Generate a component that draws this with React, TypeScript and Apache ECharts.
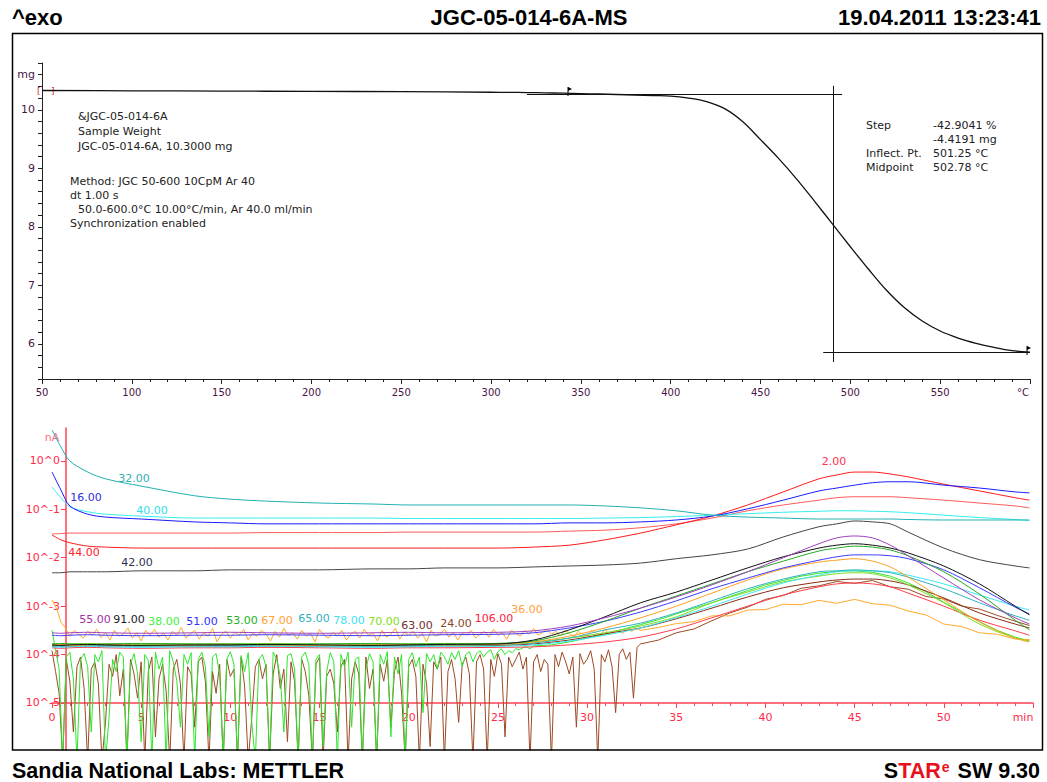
import React, { useEffect, useRef } from "react";
import * as echarts from "echarts";

// ---------- TGA curve (mass vs. sample temperature) ----------
const TEMP_C = [50, 100, 150, 200, 250, 300, 310, 320, 330, 340, 350, 360, 370, 380, 390, 400, 410, 420, 430, 440, 450, 460, 470, 480, 490, 500, 510, 520, 530, 540, 550, 560, 570, 580, 590, 600];
const MASS_MG = [10.33, 10.325, 10.32, 10.315, 10.31, 10.3, 10.298, 10.295, 10.29, 10.285, 10.278, 10.27, 10.262, 10.253, 10.243, 10.235, 10.2, 10.14, 10.02, 9.8, 9.49, 9.17, 8.82, 8.44, 8.05, 7.66, 7.28, 6.92, 6.62, 6.39, 6.22, 6.1, 6.01, 5.94, 5.885, 5.86];

// step evaluation construction lines
const STEP_UPPER_MG = 10.27;
const STEP_UPPER_RANGE_C = [320, 495.4];
const STEP_LOWER_MG = 5.855;
const STEP_LOWER_RANGE_C = [484.9, 600];
const STEP_MARK_C = 490.3;
const STEP_MARK_RANGE_MG = [10.41, 5.69];

// ---------- MS ion currents, log10(nA) vs. time in minutes ----------
const MS_TIME = [0, 0.5, 1, 2, 3, 5, 8, 10, 12, 15, 18, 20, 22, 25, 27, 29, 31, 33, 35, 37, 39, 41, 43, 44, 45, 46, 47, 48, 50, 52, 54, 54.8];

const MZ2 = [-1.53, -1.63, -1.69, -1.76, -1.78, -1.8, -1.8, -1.8, -1.8, -1.8, -1.8, -1.8, -1.8, -1.8, -1.78, -1.74, -1.63, -1.49, -1.32, -1.14, -0.91, -0.64, -0.37, -0.29, -0.23, -0.23, -0.27, -0.33, -0.48, -0.62, -0.76, -0.81];
const MZ16 = [-0.23, -0.6, -0.93, -1.1, -1.16, -1.2, -1.26, -1.28, -1.3, -1.3, -1.3, -1.3, -1.3, -1.3, -1.3, -1.28, -1.28, -1.26, -1.22, -1.14, -0.99, -0.81, -0.62, -0.56, -0.5, -0.45, -0.43, -0.43, -0.5, -0.56, -0.64, -0.66];
const MZ32 = [0.64, 0.29, 0.0, -0.23, -0.37, -0.52, -0.72, -0.79, -0.83, -0.87, -0.89, -0.91, -0.91, -0.91, -0.91, -0.91, -0.93, -0.97, -1.03, -1.12, -1.16, -1.18, -1.2, -1.2, -1.2, -1.2, -1.2, -1.21, -1.22, -1.22, -1.22, -1.22];
const MZ40 = [-0.54, -0.76, -0.95, -1.05, -1.1, -1.14, -1.18, -1.18, -1.18, -1.18, -1.18, -1.19, -1.19, -1.19, -1.19, -1.19, -1.18, -1.17, -1.15, -1.12, -1.09, -1.06, -1.04, -1.03, -1.03, -1.04, -1.05, -1.07, -1.12, -1.17, -1.21, -1.23];
const MZ44 = [-1.51, -1.5, -1.49, -1.49, -1.49, -1.49, -1.49, -1.49, -1.48, -1.48, -1.48, -1.47, -1.47, -1.47, -1.47, -1.45, -1.43, -1.38, -1.3, -1.18, -1.03, -0.91, -0.81, -0.76, -0.74, -0.74, -0.74, -0.76, -0.81, -0.87, -0.93, -0.97];
const MZ42 = [-2.31, -2.31, -2.29, -2.29, -2.29, -2.27, -2.27, -2.25, -2.25, -2.25, -2.23, -2.23, -2.21, -2.21, -2.19, -2.17, -2.15, -2.11, -2.02, -1.94, -1.82, -1.57, -1.36, -1.3, -1.24, -1.26, -1.3, -1.47, -1.8, -2.04, -2.17, -2.21];
const MZ55 = [-3.55, -3.56, -3.55, -3.54, -3.55, -3.56, -3.55, -3.54, -3.55, -3.56, -3.55, -3.54, -3.55, -3.54, -3.51, -3.41, -3.24, -3.04, -2.81, -2.56, -2.29, -2.0, -1.71, -1.59, -1.55, -1.59, -1.74, -1.96, -2.42, -2.87, -3.24, -3.37];
const MZ91 = [-3.8, -3.81, -3.8, -3.79, -3.8, -3.81, -3.8, -3.8, -3.79, -3.8, -3.81, -3.8, -3.79, -3.78, -3.7, -3.49, -3.22, -2.93, -2.71, -2.46, -2.21, -1.98, -1.8, -1.74, -1.71, -1.74, -1.8, -1.9, -2.17, -2.54, -3.0, -3.18];
const MZ53 = [-3.78, -3.77, -3.78, -3.79, -3.78, -3.77, -3.78, -3.78, -3.79, -3.78, -3.77, -3.78, -3.78, -3.77, -3.72, -3.55, -3.31, -3.04, -2.79, -2.54, -2.29, -2.07, -1.86, -1.8, -1.76, -1.78, -1.84, -1.96, -2.29, -2.75, -3.29, -3.49];
const MZ51 = [-3.6, -3.61, -3.6, -3.59, -3.6, -3.61, -3.6, -3.6, -3.59, -3.6, -3.61, -3.6, -3.59, -3.58, -3.55, -3.45, -3.31, -3.12, -2.89, -2.64, -2.42, -2.21, -2.05, -1.98, -1.94, -1.94, -1.96, -2.02, -2.25, -2.62, -3.02, -3.16];
const MZ67 = [-3.8, -3.79, -3.81, -3.8, -3.79, -3.81, -3.8, -3.79, -3.8, -3.81, -3.8, -3.79, -3.8, -3.79, -3.74, -3.62, -3.45, -3.24, -3.0, -2.73, -2.46, -2.23, -2.09, -2.05, -2.02, -2.07, -2.19, -2.4, -2.87, -3.33, -3.66, -3.74];
const MZ65 = [-3.82, -3.83, -3.82, -3.81, -3.82, -3.83, -3.82, -3.82, -3.81, -3.82, -3.83, -3.82, -3.81, -3.8, -3.76, -3.66, -3.49, -3.35, -3.14, -2.89, -2.64, -2.44, -2.29, -2.27, -2.25, -2.27, -2.31, -2.4, -2.64, -2.93, -3.2, -3.29];
const MZ78 = [-3.84, -3.85, -3.84, -3.83, -3.84, -3.85, -3.84, -3.84, -3.83, -3.84, -3.85, -3.84, -3.83, -3.83, -3.8, -3.72, -3.6, -3.45, -3.24, -3.0, -2.75, -2.52, -2.36, -2.29, -2.27, -2.27, -2.29, -2.36, -2.54, -2.77, -3.0, -3.08];
const MZ70 = [-3.78, -3.79, -3.78, -3.77, -3.78, -3.79, -3.78, -3.78, -3.77, -3.78, -3.79, -3.78, -3.77, -3.77, -3.74, -3.66, -3.55, -3.41, -3.22, -2.93, -2.71, -2.5, -2.38, -2.33, -2.31, -2.33, -2.42, -2.56, -2.93, -3.37, -3.66, -3.72];
const MZ63 = [-3.82, -3.81, -3.82, -3.83, -3.82, -3.81, -3.82, -3.82, -3.83, -3.82, -3.81, -3.82, -3.82, -3.81, -3.78, -3.7, -3.57, -3.45, -3.26, -3.04, -2.81, -2.62, -2.5, -2.46, -2.44, -2.44, -2.48, -2.56, -2.83, -3.14, -3.37, -3.45];
const MZ106 = [-3.86, -3.87, -3.86, -3.85, -3.86, -3.87, -3.86, -3.86, -3.85, -3.86, -3.87, -3.86, -3.86, -3.85, -3.84, -3.8, -3.74, -3.64, -3.47, -3.24, -3.0, -2.77, -2.6, -2.54, -2.52, -2.54, -2.6, -2.73, -3.0, -3.29, -3.51, -3.6];

// noisy channels: readings every 0.2 min (0.25 min for m/z 36) at the start, then one per minute
const MZ24_STEP = 0.2;
const MZ24_FINE_END = 33;
const MZ24_FINE = [
  -3.92, -4.35, -4.8, -6.2, -4.1, -4.55, -5.6, -4.25, -4.05, -4.7,
  -6.2, -4.3, -4.15, -4.6, -6.2, -5.4, -4.2, -4.45, -4.0, -4.85,
  -4.3, -6.2, -4.1, -4.4, -4.9, -4.15, -6.2, -4.35, -4.05, -5.7,
  -4.5, -4.2, -4.75, -6.2, -4.3, -4.1, -4.6, -6.2, -4.25, -4.4,
  -5.5, -4.15, -4.05, -4.55, -6.2, -4.35, -4.8, -4.2, -6.2, -4.1,
  -4.45, -4.3, -6.2, -4.05, -4.65, -6.2, -5.3, -4.25, -4.1, -4.5,
  -4.2, -6.2, -4.4, -4.0, -4.7, -4.3, -5.8, -4.15, -4.55, -6.2,
  -4.1, -4.35, -4.85, -6.2, -4.2, -4.05, -6.2, -4.45, -4.3, -4.6,
  -5.6, -4.25, -4.1, -6.2, -4.5, -4.15, -4.4, -6.2, -4.05, -4.7,
  -4.3, -6.2, -4.2, -4.55, -4.1, -5.5, -4.35, -4.05, -4.8, -6.2,
  -4.25, -4.1, -4.45, -6.2, -4.2, -4.6, -5.9, -4.15, -4.3, -4.05,
  -6.2, -4.35, -4.1, -4.5, -5.4, -4.2, -4.05, -4.4, -6.2, -4.15,
  -4.0, -4.3, -6.2, -4.1, -4.45, -3.98, -4.2, -5.7, -4.05, -4.25,
  -4.1, -3.95, -4.3, -4.05, -6.2, -4.15, -4.0, -4.35, -4.1, -4.2,
  -6.2, -4.0, -4.25, -3.95, -4.15, -4.4, -4.05, -5.5, -3.98, -4.2,
  -4.1, -3.92, -4.3, -6.2, -4.0, -4.15, -3.9, -4.25, -5.2, -4.0,
  -3.88, -4.1, -3.95, -4.9, -3.85, -3.78,
];
const MZ24_TAIL_TIME = [34, 35, 36, 37, 38, 39, 40, 41, 42, 43, 44, 45, 46, 47, 48, 49, 50, 51, 52, 53, 54, 54.8];
const MZ24_TAIL = [-3.7, -3.55, -3.47, -3.3, -3.14, -3.02, -2.86, -2.78, -2.63, -2.58, -2.49, -2.53, -2.47, -2.6, -2.65, -2.8, -2.85, -3.0, -3.06, -3.19, -3.31, -3.4];

const MZ38_STEP = 0.2;
const MZ38_FINE_END = 27;
const MZ38_FINE = [
  -3.5, -3.9, -4.3, -6.2, -4.05, -3.95, -4.5, -6.2, -4.1, -3.98,
  -4.25, -5.6, -4.0, -4.15, -3.92, -6.2, -5.3, -4.1, -4.35, -3.95,
  -4.05, -6.2, -4.2, -3.98, -4.4, -5.8, -4.0, -4.12, -6.2, -3.95,
  -4.3, -4.05, -6.2, -3.92, -4.15, -4.55, -5.5, -4.0, -4.2, -3.96,
  -6.2, -4.1, -3.95, -4.25, -5.7, -4.05, -3.98, -4.4, -6.2, -4.1,
  -3.94, -4.2, -6.2, -4.02, -4.35, -3.96, -5.4, -6.2, -4.1, -4.0,
  -4.25, -6.2, -3.95, -4.1, -4.45, -5.6, -4.02, -3.98, -4.3, -6.2,
  -4.05, -3.95, -4.2, -6.2, -4.1, -4.0, -5.9, -4.35, -3.96, -4.15,
  -6.2, -4.0, -4.25, -3.95, -5.5, -4.1, -4.05, -6.2, -4.3, -3.98,
  -4.15, -6.2, -4.0, -4.2, -3.94, -5.7, -4.05, -4.4, -4.0, -6.2,
  -4.1, -3.96, -4.25, -4.05, -5.2, -3.98, -4.15, -4.0, -4.3, -3.95,
  -4.05, -4.2, -3.96, -4.1, -3.92, -4.25, -4.0, -3.94, -4.15, -3.98,
  -3.92, -4.05, -3.95, -3.9, -4.1, -3.94, -3.88, -4.0, -3.92, -3.96,
  -3.88, -3.9, -3.86, -3.84, -3.88, -3.82,
];
const MZ38_TAIL_TIME = [28, 29, 30, 31, 32, 33, 34, 35, 36, 37, 38, 39, 40, 41, 42, 43, 44, 45, 46, 47, 48, 49, 50, 51, 52, 53, 54, 54.8];
const MZ38_TAIL = [-3.8, -3.74, -3.66, -3.58, -3.48, -3.38, -3.28, -3.16, -3.04, -2.93, -2.8, -2.68, -2.56, -2.47, -2.38, -2.32, -2.28, -2.27, -2.3, -2.38, -2.52, -2.7, -2.92, -3.12, -3.32, -3.5, -3.64, -3.72];

const MZ36_STEP = 0.25;
const MZ36_FINE_END = 33;
const MZ36_FINE = [
  -2.87, -3.04, -3.33, -3.45, -3.62, -3.5, -3.58, -3.66,
  -3.52, -3.6, -3.48, -3.65, -3.55, -3.7, -3.5, -3.62,
  -3.58, -3.45, -3.66, -3.55, -3.72, -3.5, -3.6, -3.48,
  -3.64, -3.56, -3.7, -3.52, -3.6, -3.44, -3.66, -3.58,
  -3.5, -3.68, -3.55, -3.62, -3.46, -3.74, -3.58, -3.52,
  -3.66, -3.54, -3.6, -3.48, -3.7, -3.56, -3.62, -3.5,
  -3.58, -3.72, -3.52, -3.64, -3.46, -3.6, -3.55, -3.68,
  -3.5, -3.62, -3.56, -3.74, -3.48, -3.6, -3.66, -3.54,
  -3.62, -3.5, -3.7, -3.58, -3.52, -3.66, -3.48, -3.6,
  -3.56, -3.72, -3.5, -3.64, -3.58, -3.46, -3.68, -3.54,
  -3.6, -3.52, -3.66, -3.56, -3.74, -3.5, -3.62, -3.58,
  -3.48, -3.64, -3.54, -3.7, -3.56, -3.6, -3.5, -3.66,
  -3.58, -3.52, -3.64, -3.48, -3.6, -3.55, -3.68, -3.5,
  -3.56, -3.62, -3.5, -3.58, -3.46, -3.6, -3.54, -3.48,
  -3.58, -3.52, -3.62, -3.5, -3.56, -3.64, -3.52, -3.58,
  -3.62, -3.5, -3.56, -3.6, -3.48, -3.58, -3.54, -3.5,
  -3.56, -3.48, -3.52, -3.46, -3.5,
];
const MZ36_TAIL_TIME = [34, 35, 36, 37, 38, 39, 40, 41, 42, 43, 44, 45, 46, 47, 48, 49, 50, 51, 52, 53, 54, 54.8];
const MZ36_TAIL = [-3.44, -3.36, -3.32, -3.2, -3.2, -3.08, -3.07, -2.96, -2.97, -2.88, -2.94, -2.86, -2.95, -2.98, -3.1, -3.18, -3.37, -3.42, -3.55, -3.58, -3.68, -3.69];

// tick labels
const MS_DECADES = [-5, -4, -3, -2, -1, 0];

function sampleTimes(end: number, step: number): number[] {
  const out: number[] = [];
  for (let i = 0; i * step <= end + 1e-9; i++) out.push(Math.round(i * step * 100) / 100);
  return out;
}

function pairs(t: number[], v: number[]): number[][] {
  const n = Math.min(t.length, v.length);
  const out: number[][] = [];
  for (let i = 0; i < n; i++) out.push([t[i], v[i]]);
  return out;
}

type Channel = { name: string; color: string; time: number[]; values: number[]; smooth?: boolean };

const CHANNELS: Channel[] = [
  { name: "24.00", color: "#9c4a26", time: [...sampleTimes(MZ24_FINE_END, MZ24_STEP), ...MZ24_TAIL_TIME], values: [...MZ24_FINE, ...MZ24_TAIL] },
  { name: "38.00", color: "#2fe62f", time: [...sampleTimes(MZ38_FINE_END, MZ38_STEP), ...MZ38_TAIL_TIME], values: [...MZ38_FINE, ...MZ38_TAIL] },
  { name: "36.00", color: "#ffaa2a", time: [...sampleTimes(MZ36_FINE_END, MZ36_STEP), ...MZ36_TAIL_TIME], values: [...MZ36_FINE, ...MZ36_TAIL] },
  { name: "106.00", color: "#ff3a4a", time: MS_TIME, values: MZ106, smooth: true },
  { name: "63.00", color: "#8a2a14", time: MS_TIME, values: MZ63, smooth: true },
  { name: "70.00", color: "#7edc28", time: MS_TIME, values: MZ70, smooth: true },
  { name: "78.00", color: "#3ce6f6", time: MS_TIME, values: MZ78, smooth: true },
  { name: "65.00", color: "#2fb2bc", time: MS_TIME, values: MZ65, smooth: true },
  { name: "67.00", color: "#ffa020", time: MS_TIME, values: MZ67, smooth: true },
  { name: "51.00", color: "#3a3aff", time: MS_TIME, values: MZ51, smooth: true },
  { name: "53.00", color: "#22aa22", time: MS_TIME, values: MZ53, smooth: true },
  { name: "91.00", color: "#111111", time: MS_TIME, values: MZ91, smooth: true },
  { name: "55.00", color: "#a040c0", time: MS_TIME, values: MZ55, smooth: true },
  { name: "42.00", color: "#444444", time: MS_TIME, values: MZ42, smooth: true },
  { name: "44.00", color: "#ff5a5a", time: MS_TIME, values: MZ44, smooth: true },
  { name: "2.00", color: "#ff1a1a", time: MS_TIME, values: MZ2, smooth: true },
  { name: "40.00", color: "#33eeee", time: MS_TIME, values: MZ40, smooth: true },
  { name: "16.00", color: "#1a1aff", time: MS_TIME, values: MZ16, smooth: true },
  { name: "32.00", color: "#22b0b0", time: MS_TIME, values: MZ32, smooth: true },
];

// where each channel's m/z tag is printed
const CHANNEL_TAGS: { name: string; x: number; y: number; color: string }[] = [
  { name: "2.00", x: 834, y: 461, color: "#ff3050" },
  { name: "32.00", x: 134, y: 478, color: "#30b0b0" },
  { name: "16.00", x: 86, y: 497, color: "#3030e0" },
  { name: "40.00", x: 152, y: 510, color: "#30e0e8" },
  { name: "44.00", x: 84, y: 552, color: "#ff2030" },
  { name: "42.00", x: 137, y: 562, color: "#303050" },
  { name: "55.00", x: 95, y: 619, color: "#a030a0" },
  { name: "91.00", x: 129, y: 619, color: "#202020" },
  { name: "38.00", x: 164, y: 621, color: "#40f040" },
  { name: "51.00", x: 202, y: 621, color: "#3030ff" },
  { name: "53.00", x: 242, y: 620, color: "#20b020" },
  { name: "67.00", x: 277, y: 620, color: "#ffa030" },
  { name: "65.00", x: 314, y: 618, color: "#30b0c0" },
  { name: "78.00", x: 349, y: 620, color: "#40e0f0" },
  { name: "70.00", x: 384, y: 621, color: "#80e020" },
  { name: "63.00", x: 417, y: 625, color: "#703030" },
  { name: "24.00", x: 456, y: 623, color: "#884422" },
  { name: "106.00", x: 494, y: 618, color: "#ff2040" },
  { name: "36.00", x: 527, y: 609, color: "#ffa040" },
];

const SANS = '"DejaVu Sans", Verdana, sans-serif';
const ARIAL = '"Liberation Sans", Arial, sans-serif';

function text(x: number, y: number, s: string, font: string, fill: string, align = "left") {
  return {
    type: "text",
    x,
    y,
    silent: true,
    style: { text: s, font, fill, align, verticalAlign: "middle" },
  };
}

export default function App() {
  const ref = useRef<HTMLDivElement>(null);

  useEffect(() => {
    if (!ref.current) return;
    const chart = echarts.init(ref.current, undefined, { renderer: "svg" });

    const axisPurple = "#4a1448";
    const msRed = "#ff2a4a";

    const msSeries = CHANNELS.map((c) => ({
      type: "line",
      name: c.name,
      xAxisIndex: 1,
      yAxisIndex: 1,
      data: pairs(c.time, c.values),
      showSymbol: false,
      symbol: "none",
      smooth: c.smooth ? 0.3 : false,
      lineStyle: { color: c.color, width: 1 },
      itemStyle: { color: c.color },
      silent: true,
    }));

    const infoLeft = [
      text(78, 116, "&JGC-05-014-6A", `11px ${SANS}`, "#222"),
      text(78, 131, "Sample Weight", `11px ${SANS}`, "#222"),
      text(78, 146, "JGC-05-014-6A, 10.3000 mg", `11px ${SANS}`, "#222"),
      text(70, 181, "Method: JGC 50-600 10CpM Ar 40", `11px ${SANS}`, "#222"),
      text(70, 195, "dt 1.00 s", `11px ${SANS}`, "#222"),
      text(78, 209, "50.0-600.0°C 10.00°C/min, Ar 40.0 ml/min", `11px ${SANS}`, "#222"),
      text(70, 223, "Synchronization enabled", `11px ${SANS}`, "#222"),
    ];
    const infoRight = [
      text(866, 125, "Step", `11px ${SANS}`, "#222"),
      text(933, 125, "-42.9041 %", `11px ${SANS}`, "#222"),
      text(933, 139, "-4.4191 mg", `11px ${SANS}`, "#222"),
      text(866, 153, "Inflect. Pt.", `11px ${SANS}`, "#222"),
      text(933, 153, "501.25 °C", `11px ${SANS}`, "#222"),
      text(866, 167, "Midpoint", `11px ${SANS}`, "#222"),
      text(933, 167, "502.78 °C", `11px ${SANS}`, "#222"),
    ];

    const tags = CHANNEL_TAGS.map((t) => text(t.x, t.y, t.name, `11px ${SANS}`, t.color, "center"));

    const option: any = {
      animation: false,
      backgroundColor: "#ffffff",
      textStyle: { fontFamily: SANS },
      grid: [
        { left: 42, top: 63, width: 988, height: 316 },
        { left: 52, top: 428, width: 981, height: 322 },
      ],
      xAxis: [
        {
          type: "value",
          gridIndex: 0,
          min: 50,
          max: 600,
          interval: 50,
          axisLine: { onZero: false, lineStyle: { color: "#222", width: 1 } },
          axisTick: { length: 5, lineStyle: { color: "#222" } },
          minorTick: { show: true, splitNumber: 5, length: 3, lineStyle: { color: "#222" } },
          splitLine: { show: false },
          axisLabel: {
            color: axisPurple,
            fontSize: 10,
            fontFamily: SANS,
            margin: 8,
            formatter: (v: number) => (v === 600 ? "{u|°C}" : String(v)),
            rich: { u: { color: axisPurple, fontSize: 10, fontFamily: SANS, padding: [0, 14, 0, 0] } },
          },
        },
        {
          type: "value",
          gridIndex: 1,
          min: 0,
          max: 55,
          interval: 5,
          offset: -47,
          axisLine: { onZero: false, lineStyle: { color: "#ff4050", width: 1.5 } },
          axisTick: { length: 5, lineStyle: { color: "#ff4050" } },
          minorTick: { show: true, splitNumber: 5, length: 3, lineStyle: { color: "#ff4050" } },
          splitLine: { show: false },
          axisLabel: {
            color: msRed,
            fontSize: 11,
            fontFamily: SANS,
            margin: 9,
            formatter: (v: number) => (v === 55 ? "{u|min}" : String(v)),
            rich: { u: { color: msRed, fontSize: 11, fontFamily: SANS, padding: [0, 20, 0, 0] } },
          },
        },
      ],
      yAxis: [
        {
          type: "value",
          gridIndex: 0,
          min: 5.4,
          max: 10.8,
          interval: 0.2,
          axisLine: { show: true, onZero: false, lineStyle: { color: "#222", width: 1 } },
          axisTick: { length: 4, lineStyle: { color: "#222" } },
          splitLine: { show: false },
          axisLabel: {
            color: axisPurple,
            fontSize: 11,
            fontFamily: SANS,
            margin: 7,
            formatter: (v: number) => {
              if (Math.abs(v - 10.6) < 1e-6) return "mg";
              if (Math.abs(v - Math.round(v)) < 1e-6) return String(Math.round(v));
              return "";
            },
          },
        },
        {
          type: "value",
          gridIndex: 1,
          min: -5.971,
          max: 0.68,
          offset: -14,
          axisLine: { show: true, onZero: false, lineStyle: { color: "#ff4050", width: 1.5 } },
          axisTick: { show: true, length: 5, customValues: MS_DECADES, lineStyle: { color: "#ff4050" } },
          splitLine: { show: false },
          axisLabel: {
            customValues: MS_DECADES,
            color: msRed,
            fontSize: 11,
            fontFamily: SANS,
            margin: 6,
            formatter: (v: number) => "10^" + Math.round(v),
          },
        },
      ],
      series: [
        {
          type: "line",
          name: "mass",
          xAxisIndex: 0,
          yAxisIndex: 0,
          data: pairs(TEMP_C, MASS_MG),
          showSymbol: false,
          symbol: "none",
          smooth: 0.35,
          silent: true,
          lineStyle: { color: "#111", width: 1.3 },
          markLine: {
            silent: true,
            symbol: ["none", "none"],
            label: { show: false },
            lineStyle: { color: "#111", width: 1, type: "solid" },
            data: [
              [{ coord: [STEP_UPPER_RANGE_C[0], STEP_UPPER_MG] }, { coord: [STEP_UPPER_RANGE_C[1], STEP_UPPER_MG] }],
              [{ coord: [STEP_LOWER_RANGE_C[0], STEP_LOWER_MG] }, { coord: [STEP_LOWER_RANGE_C[1], STEP_LOWER_MG] }],
              [{ coord: [STEP_MARK_C, STEP_MARK_RANGE_MG[0]] }, { coord: [STEP_MARK_C, STEP_MARK_RANGE_MG[1]] }],
            ],
          },
        },
        ...msSeries,
      ],
      graphic: [
        {
          type: "rect",
          silent: true,
          shape: { x: 12.5, y: 33.5, width: 1030, height: 716.5 },
          style: { fill: "none", stroke: "#000", lineWidth: 1.5 },
          z: 100,
        },
        text(12, 17, "^exo", `bold 22px ${ARIAL}`, "#000"),
        text(529, 17, "JGC-05-014-6A-MS", `bold 22px ${ARIAL}`, "#000", "center"),
        text(1041, 17, "19.04.2011 13:23:41", `bold 22px ${ARIAL}`, "#000", "right"),
        text(12, 771, "Sandia National Labs: METTLER", `bold 21.5px ${ARIAL}`, "#000"),
        {
          type: "text",
          x: 1040,
          y: 771,
          silent: true,
          style: {
            text: "{k|S}{r|TAR}{e|e}{k| SW 9.30}",
            align: "right",
            verticalAlign: "middle",
            rich: {
              k: { fontSize: 21.5, fontWeight: "bold", fontFamily: ARIAL, fill: "#000" },
              r: { fontSize: 21.5, fontWeight: "bold", fontFamily: ARIAL, fill: "#e8101a" },
              e: { fontSize: 14, fontWeight: "bold", fontFamily: ARIAL, fill: "#e8101a", verticalAlign: "top", padding: [0, 2, 0, 1] },
            },
          },
        },
        // start-of-curve bracket and evaluation flags
        text(37, 91, "[", `9px ${SANS}`, "#e02020"),
        text(51, 91, "]", `9px ${SANS}`, "#e02020"),
        {
          type: "polyline",
          silent: true,
          shape: { points: [[568, 96], [568, 87]] },
          style: { stroke: "#000", lineWidth: 1, fill: "none" },
        },
        {
          type: "polygon",
          silent: true,
          shape: { points: [[568, 87], [572, 89], [568, 91]] },
          style: { fill: "#000" },
        },
        {
          type: "polyline",
          silent: true,
          shape: { points: [[1027, 355], [1027, 346]] },
          style: { stroke: "#000", lineWidth: 1, fill: "none" },
        },
        {
          type: "polygon",
          silent: true,
          shape: { points: [[1027, 346], [1031, 348], [1027, 350]] },
          style: { fill: "#000" },
        },
        text(52, 437, "nA", `11px ${SANS}`, "#ff6a80", "center"),
        ...infoLeft,
        ...infoRight,
        ...tags,
      ],
    };

    chart.setOption(option);
    return () => chart.dispose();
  }, []);

  return (
    <div
      ref={ref}
      style={{ position: "fixed", left: 0, top: 0, width: 1047, height: 782, background: "#fff" }}
    />
  );
}
